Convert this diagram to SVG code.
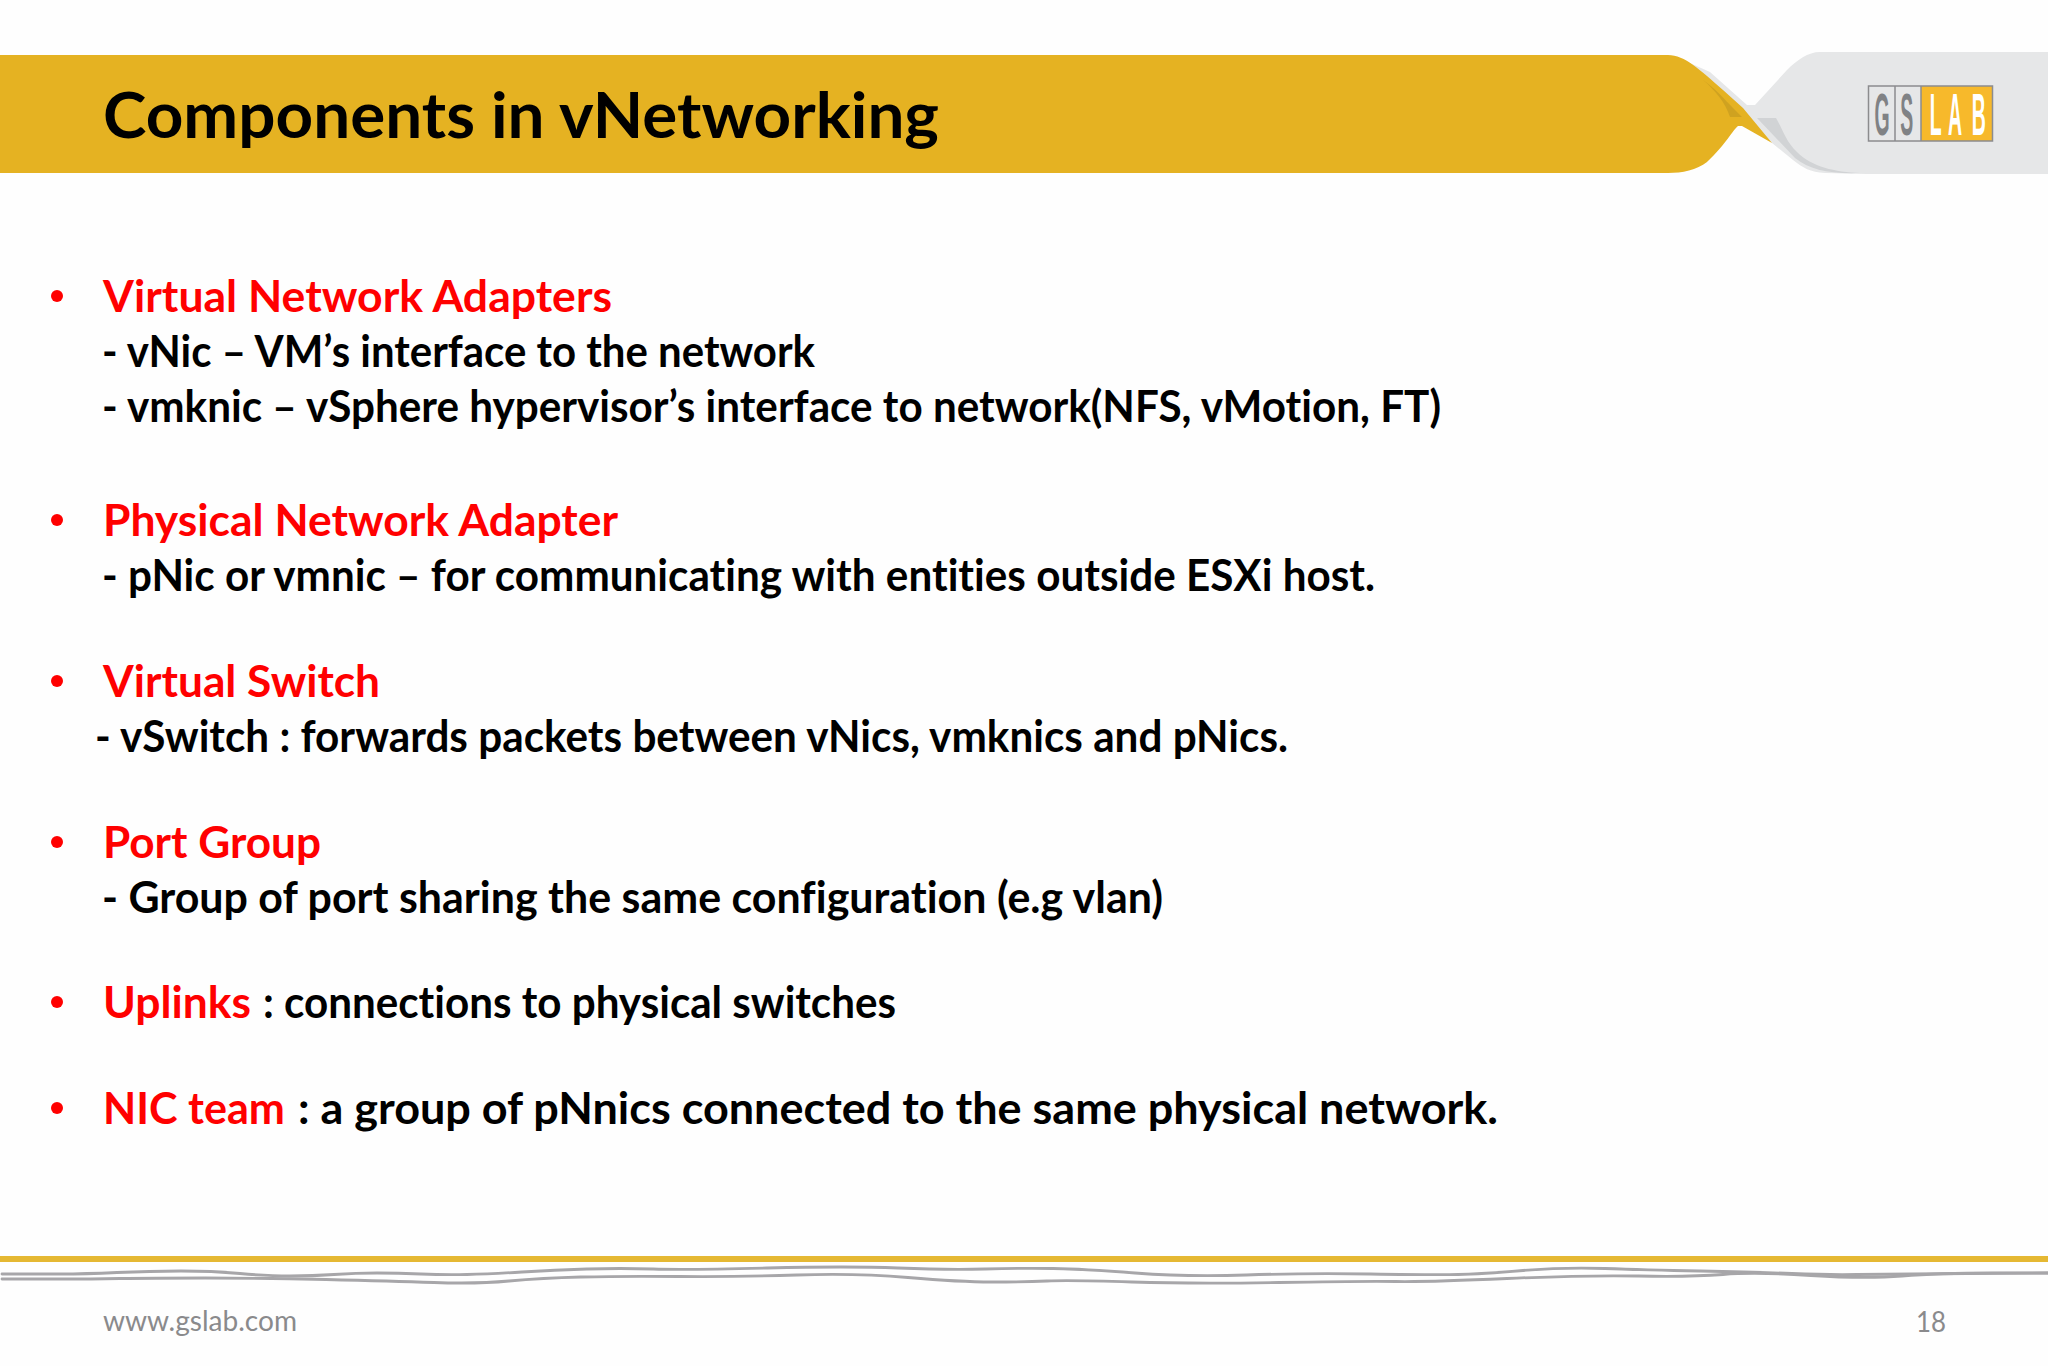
<svg xmlns="http://www.w3.org/2000/svg" width="2048" height="1366" viewBox="0 0 2048 1366">
<style>
text{font-family:Lato,"Open Sans","Liberation Sans",sans-serif;font-variant-ligatures:none}
.b{font-weight:700;font-size:43px;fill:#000}
.r{fill:#ff0000}
.f{font-size:29px;fill:#8a8a8c}
.w{fill:none;stroke:#a7a6a9;stroke-width:2.8;stroke-linejoin:round;stroke-linecap:round}
.lg{font-family:"Liberation Sans",sans-serif;font-size:59px;font-weight:700}
</style>
<rect width="2048" height="1366" fill="#fefefe"/>
<g id="header">
<path d="M2048 52H1820C1808 52 1797 60 1787 70L1755 105H1747L1710 72 1683 60 1700 80 1772 143 1793 160C1803 168 1810 172 1825 173L1867 174H2048Z" fill="#e6e7e8"/>
<path d="M1757 118H1776C1783 130 1786 142 1797 152 1812 167 1835 172 1860 173 1830 174 1810 170 1795 158Z" fill="#d1d3d5"/>
<path d="M0 55H1668C1685 55 1700 70 1723 90L1743 108 1772 143 1742 126H1738C1732 131 1727 143 1707 162 1697 170 1682 173 1668 173H0Z" fill="#e5b222"/>
<path d="M1703 80C1715 88 1725 100 1733 108L1742 117H1730C1725 102 1715 90 1703 80Z" fill="#cfa220"/>
<text x="103" y="137.500" font-size="64" font-weight="700" textLength="836" lengthAdjust="spacingAndGlyphs">Components in vNetworking</text>
</g>
<g id="logo">
<rect x="1868.500" y="86" width="124" height="55" fill="#e6e7e8"/>
<rect x="1921" y="86" width="71.500" height="55" fill="#f7b92b"/>
<rect x="1868.500" y="86" width="124" height="55" fill="none" stroke="#8c8c8e" stroke-width="1.500"/>
<path d="M1895 86V141M1921 86V141" stroke="#8c8c8e" stroke-width="1.500"/>
<text class="lg" transform="scale(.33 1)" y="135"><tspan x="5680 5758" fill="#808285">GS</tspan><tspan x="5848 5903 5975" fill="#fff">LAB</tspan></text>
</g>
<g id="body">
<g fill="#ff0000">
<circle cx="57" cy="296" r="6"/><circle cx="57" cy="520" r="6"/><circle cx="57" cy="681" r="6"/><circle cx="57" cy="842" r="6"/><circle cx="57" cy="1002" r="6"/><circle cx="57" cy="1108" r="6"/>
</g>
<text class="b r" x="103" y="312" textLength="509" lengthAdjust="spacingAndGlyphs">Virtual Network Adapters</text>
<text class="b" x="102" y="367" textLength="713" lengthAdjust="spacingAndGlyphs">- vNic – VM’s interface to the network</text>
<text class="b" x="102" y="422" textLength="1339" lengthAdjust="spacingAndGlyphs">- vmknic – vSphere hypervisor’s interface to network(NFS, vMotion, FT)</text>
<text class="b r" x="103" y="536" textLength="515" lengthAdjust="spacingAndGlyphs">Physical Network Adapter</text>
<text class="b" x="102" y="591" textLength="1273" lengthAdjust="spacingAndGlyphs">- pNic or vmnic – for communicating with entities outside ESXi host.</text>
<text class="b r" x="103" y="697" textLength="277" lengthAdjust="spacingAndGlyphs">Virtual Switch</text>
<text class="b" x="95" y="752" textLength="1193" lengthAdjust="spacingAndGlyphs">- vSwitch : forwards packets between vNics, vmknics and pNics.</text>
<text class="b r" x="103" y="858" textLength="218" lengthAdjust="spacingAndGlyphs">Port Group</text>
<text class="b" x="102" y="913" textLength="1061" lengthAdjust="spacingAndGlyphs">- Group of port sharing the same configuration (e.g vlan)</text>
<text class="b r" x="103" y="1018" textLength="148" lengthAdjust="spacingAndGlyphs">Uplinks</text>
<text class="b" x="263" y="1018" textLength="633" lengthAdjust="spacingAndGlyphs">: connections to physical switches</text>
<text class="b r" x="103" y="1124" textLength="182" lengthAdjust="spacingAndGlyphs">NIC team</text>
<text class="b" x="298" y="1124" textLength="1200" lengthAdjust="spacingAndGlyphs">: a group of pNnics connected to the same physical network.</text>
</g>
<g id="footer">
<rect x="0" y="1256" width="2048" height="6" fill="#e5b833"/>
<path class="w" d="M2 1274L60 1274Q85 1274 117 1272.500Q150 1271 181 1271Q212 1271 240 1273.500Q268 1276 290 1276Q313 1276 334 1274.500Q356 1273 377 1273Q398 1273 421 1274Q444 1275 467 1274.500Q490 1274 522 1272Q555 1270 587 1269Q620 1268 653 1269Q686 1270 767 1268Q849 1266 898 1268Q947 1270 985 1269Q1024 1268 1053 1268.500Q1083 1269 1135 1273Q1187 1277 1246 1275Q1305 1273 1370 1274Q1435 1275 1458 1274.500Q1481 1274 1523 1270.500Q1566 1267 1605 1268.500Q1644 1270 1700 1271Q1756 1272 1792 1273.500Q1828 1275 1857 1274.500Q1886 1274 1967 1273.500L2048 1273"/>
<path class="w" d="M2 1279L60 1279Q91 1279 120 1278.500Q150 1278 205 1278Q261 1278 326 1279.500Q392 1281 434 1282.500Q477 1284 509 1281Q542 1278 581 1277Q620 1276 679 1276.500Q738 1277 797 1275Q856 1273 908 1277.500Q960 1282 992 1282Q1024 1282 1047 1281Q1070 1280 1132 1282Q1194 1284 1279 1282.500Q1364 1281 1396 1281.500Q1429 1282 1507 1278.500Q1586 1275 1638 1276Q1690 1277 1723 1274.500Q1756 1272 1811 1275.500Q1866 1279 1902 1276Q1938 1273 1993 1273L2048 1273"/>
<text class="f" x="103" y="1331" textLength="194" lengthAdjust="spacingAndGlyphs">www.gslab.com</text>
<text class="f" x="1916" y="1332" textLength="30" lengthAdjust="spacingAndGlyphs">18</text>
</g>
</svg>
